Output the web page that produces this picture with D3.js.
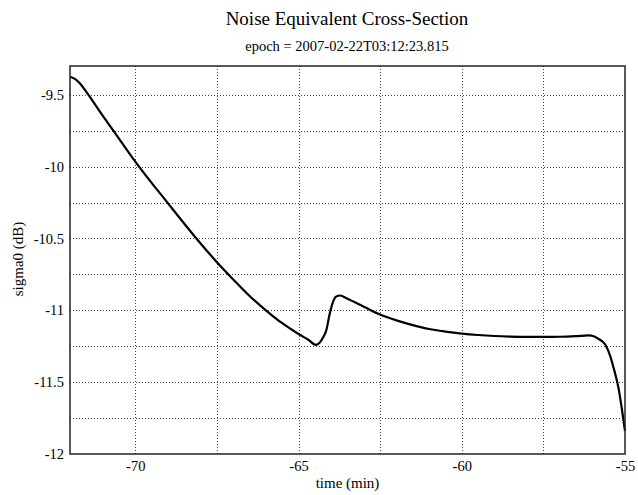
<!DOCTYPE html>
<html>
<head>
<meta charset="utf-8">
<script src="https://cdn.jsdelivr.net/npm/d3@7"></script>
<style>
  html, body { margin: 0; padding: 0; background: #fff; }
  svg text { font-family: "Liberation Serif", "Times New Roman", serif; fill: #000; }
</style>
</head>
<body>
<svg id="chart" width="638" height="495"></svg>
<script>
// Time relative to epoch (minutes)
const timeMin = [
  -72, -71.85, -71.7, -71.5, -71, -70.5, -70, -69, -68, -67.5, -67,
  -66.5, -66, -65.5, -65, -64.7, -64.47, -64.35, -64.25, -64.15, -64.05, -63.95,
  -63.85, -63.73, -63.5, -63, -62.5, -62, -61.5, -61, -60.5, -60, -59.5, -59,
  -58.5, -58, -57.5, -57, -56.5, -56.1, -55.8, -55.6, -55.45, -55.35, -55.2, -55.1, -55
];
// Noise equivalent sigma0 (dB)
const sigma0 = [
  -9.375, -9.39, -9.42, -9.48, -9.645, -9.805, -9.965, -10.255, -10.535, -10.665, -10.785,
  -10.9, -11.0, -11.09, -11.165, -11.205, -11.24, -11.225, -11.19, -11.14, -11.03, -10.945,
  -10.905, -10.897, -10.92, -10.975, -11.03, -11.07, -11.103, -11.13, -11.148, -11.162, -11.172, -11.179,
  -11.183, -11.185, -11.185, -11.184, -11.18, -11.175, -11.2, -11.24, -11.32, -11.4, -11.54, -11.68, -11.84
];
const xTickLabels = [-70, -65, -60, -55];
const yTickLabels = [-9.5, -10, -10.5, -11, -11.5, -12];
const xGrid = [-70, -67.5, -65, -62.5, -60, -57.5];
const yGrid = [-9.5, -9.75, -10, -10.25, -10.5, -10.75, -11, -11.25, -11.5, -11.75];

const svg = d3.select("#chart");
const margin = { left: 70, right: 13, top: 66, bottom: 41 };
const W = 638, H = 495;

const x = d3.scaleLinear().domain([-72, -55]).range([margin.left, W - margin.right]);
const y = d3.scaleLinear().domain([-12, -9.3]).range([H - margin.bottom, margin.top]);

// Titles
svg.append("text").attr("x", 347).attr("y", 25).attr("text-anchor", "middle")
  .attr("font-size", 19).text("Noise Equivalent Cross-Section");
svg.append("text").attr("x", 347).attr("y", 51).attr("text-anchor", "middle")
  .attr("font-size", 14.5).text("epoch = 2007-02-22T03:12:23.815");

// Grid
const grid = svg.append("g").attr("stroke", "#444").attr("stroke-width", 1)
  .attr("stroke-dasharray", "1,2");
grid.selectAll("line.gx").data(xGrid).join("line").attr("class", "gx")
  .attr("x1", d => Math.round(x(d)) + 0.5).attr("x2", d => Math.round(x(d)) + 0.5)
  .attr("y1", y.range()[1]).attr("y2", y.range()[0]);
grid.selectAll("line.gy").data(yGrid).join("line").attr("class", "gy")
  .attr("y1", d => Math.round(y(d)) + 0.5).attr("y2", d => Math.round(y(d)) + 0.5)
  .attr("x1", x.range()[0]).attr("x2", x.range()[1]);

// Axes (labels only, frame drawn separately); plain hyphen for negatives
const fmt = d => String(d);
const xAxis = d3.axisBottom(x).tickValues(xTickLabels).tickSize(0).tickPadding(7).tickFormat(fmt);
const gx = svg.append("g").attr("transform", `translate(0,${y.range()[0]})`).call(xAxis);
gx.select(".domain").remove();
gx.attr("font-family", "Liberation Serif").attr("font-size", 14.5);

const yAxis = d3.axisLeft(y).tickValues(yTickLabels).tickSize(0).tickPadding(6).tickFormat(fmt);
const gy = svg.append("g").attr("transform", `translate(${x.range()[0]},0)`).call(yAxis);
gy.select(".domain").remove();
gy.attr("font-family", "Liberation Serif").attr("font-size", 14.5);

// Axis titles
svg.append("text").attr("x", 347.5).attr("y", 488).attr("text-anchor", "middle")
  .attr("font-size", 15).text("time (min)");
svg.append("text").attr("transform", "translate(23,259) rotate(-90)")
  .attr("text-anchor", "middle").attr("font-size", 15).text("sigma0 (dB)");

// Data line
const data = timeMin.map((t, i) => ({ t, v: sigma0[i] }));
const line = d3.line().x(d => x(d.t)).y(d => y(d.v)).curve(d3.curveMonotoneX);
svg.append("path").datum(data).attr("d", line).attr("fill", "none")
  .attr("stroke", "#000").attr("stroke-width", 2.2).attr("stroke-linejoin", "round");

// Frame
svg.append("rect").attr("x", x.range()[0]).attr("y", y.range()[1])
  .attr("width", x.range()[1] - x.range()[0]).attr("height", y.range()[0] - y.range()[1])
  .attr("fill", "none").attr("stroke", "#222").attr("stroke-width", 1.5);
</script>
</body>
</html>
